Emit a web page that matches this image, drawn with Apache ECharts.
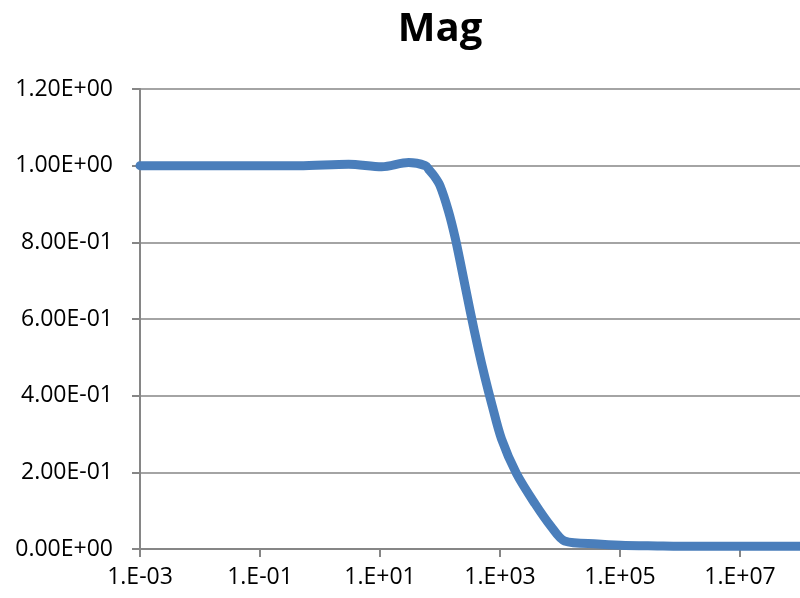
<!DOCTYPE html>
<html>
<head>
<meta charset="utf-8">
<script src="https://cdn.jsdelivr.net/npm/echarts@6/dist/echarts.min.js"></script>
<style>
html,body{margin:0;padding:0;background:#fff;}
#chart{width:800px;height:598px;}
</style>
</head>
<body>
<div id="chart"></div>
<script>
// Frequency (Hz) and magnitude
const freq = [1e-3, 1e-2, 1e-1, 0.45, 3, 10.7, 30, 57.5, 65, 80, 100, 138, 179, 230, 316, 434, 562, 724, 1060, 1880, 3800, 7150, 11900, 42700, 1.02e5, 4.2e5, 1e6, 1e7, 1e8];
const mag  = [1.0, 1.0, 1.0, 1.0, 1.004, 0.997, 1.008, 1.0, 0.99, 0.973, 0.948, 0.882, 0.812, 0.73, 0.623, 0.522, 0.447, 0.38, 0.287, 0.197, 0.119, 0.058, 0.021, 0.013, 0.010, 0.008, 0.007, 0.007, 0.007];
const xTickExponents = [-3, -1, 1, 3, 5, 7];
const yTicks = [0, 0.2, 0.4, 0.6, 0.8, 1.0, 1.2];
const titleText = 'Mag';

const FMIN_EXP = -3; // axis starts at 1e-3
const pad2 = n => (n < 10 ? '0' : '') + n;
function fmtX(decadesAboveMin) {
  const e = Math.round(decadesAboveMin + FMIN_EXP);
  return '1.E' + (e < 0 ? '-' : '+') + pad2(Math.abs(e));
}
function fmtY(v) {
  const s = Number(v).toExponential(2); // e.g. 1.20e+0
  const parts = s.split('e');
  const e = parseInt(parts[1], 10);
  return parts[0] + 'E' + (e < 0 ? '-' : '+') + pad2(Math.abs(e));
}

const data = freq.map((f, i) => [Math.log10(f) - FMIN_EXP, mag[i]]);

const chart = echarts.init(document.getElementById('chart'), null, {renderer: 'canvas'});
const gray = '#868686';
const font = '"Open Sans", "Liberation Sans", sans-serif';
chart.setOption({
  animation: false,
  backgroundColor: '#ffffff',
  title: {
    text: titleText,
    left: 435,
    textAlign: 'center',
    top: 5,
    textStyle: {fontFamily: font, fontWeight: 'bold', fontSize: 40, color: '#000'}
  },
  grid: {left: 140, top: 89, bottom: 49, right: -3, containLabel: false},
  xAxis: {
    type: 'value',
    min: 0,
    max: 11,
    interval: 2,
    axisLine: {show: true, lineStyle: {color: gray, width: 2}},
    axisTick: {show: true, inside: false, length: 8, lineStyle: {color: gray, width: 2}},
    splitLine: {show: false},
    axisLabel: {
      show: true,
      margin: 17,
      showMaxLabel: false,
      fontFamily: font, fontSize: 23, color: '#000',
      formatter: v => {
        const e = Math.round(v + FMIN_EXP);
        return xTickExponents.indexOf(e) >= 0 ? fmtX(v) : '';
      }
    }
  },
  yAxis: {
    type: 'value',
    min: yTicks[0],
    max: yTicks[yTicks.length - 1],
    interval: 0.2,
    axisLine: {show: true, lineStyle: {color: gray, width: 2}},
    axisTick: {show: true, inside: false, length: 8, lineStyle: {color: gray, width: 2}},
    splitLine: {show: true, lineStyle: {color: gray, width: 1.5}},
    axisLabel: {
      margin: 27,
      fontFamily: font, fontSize: 23, color: '#000',
      formatter: v => fmtY(v)
    }
  },
  series: [{
    type: 'line',
    data: data,
    showSymbol: false,
    smooth: 0.3,
    lineStyle: {color: '#4A7EBB', width: 9, cap: 'round', join: 'round'},
    clip: true
  }]
});
</script>
</body>
</html>
